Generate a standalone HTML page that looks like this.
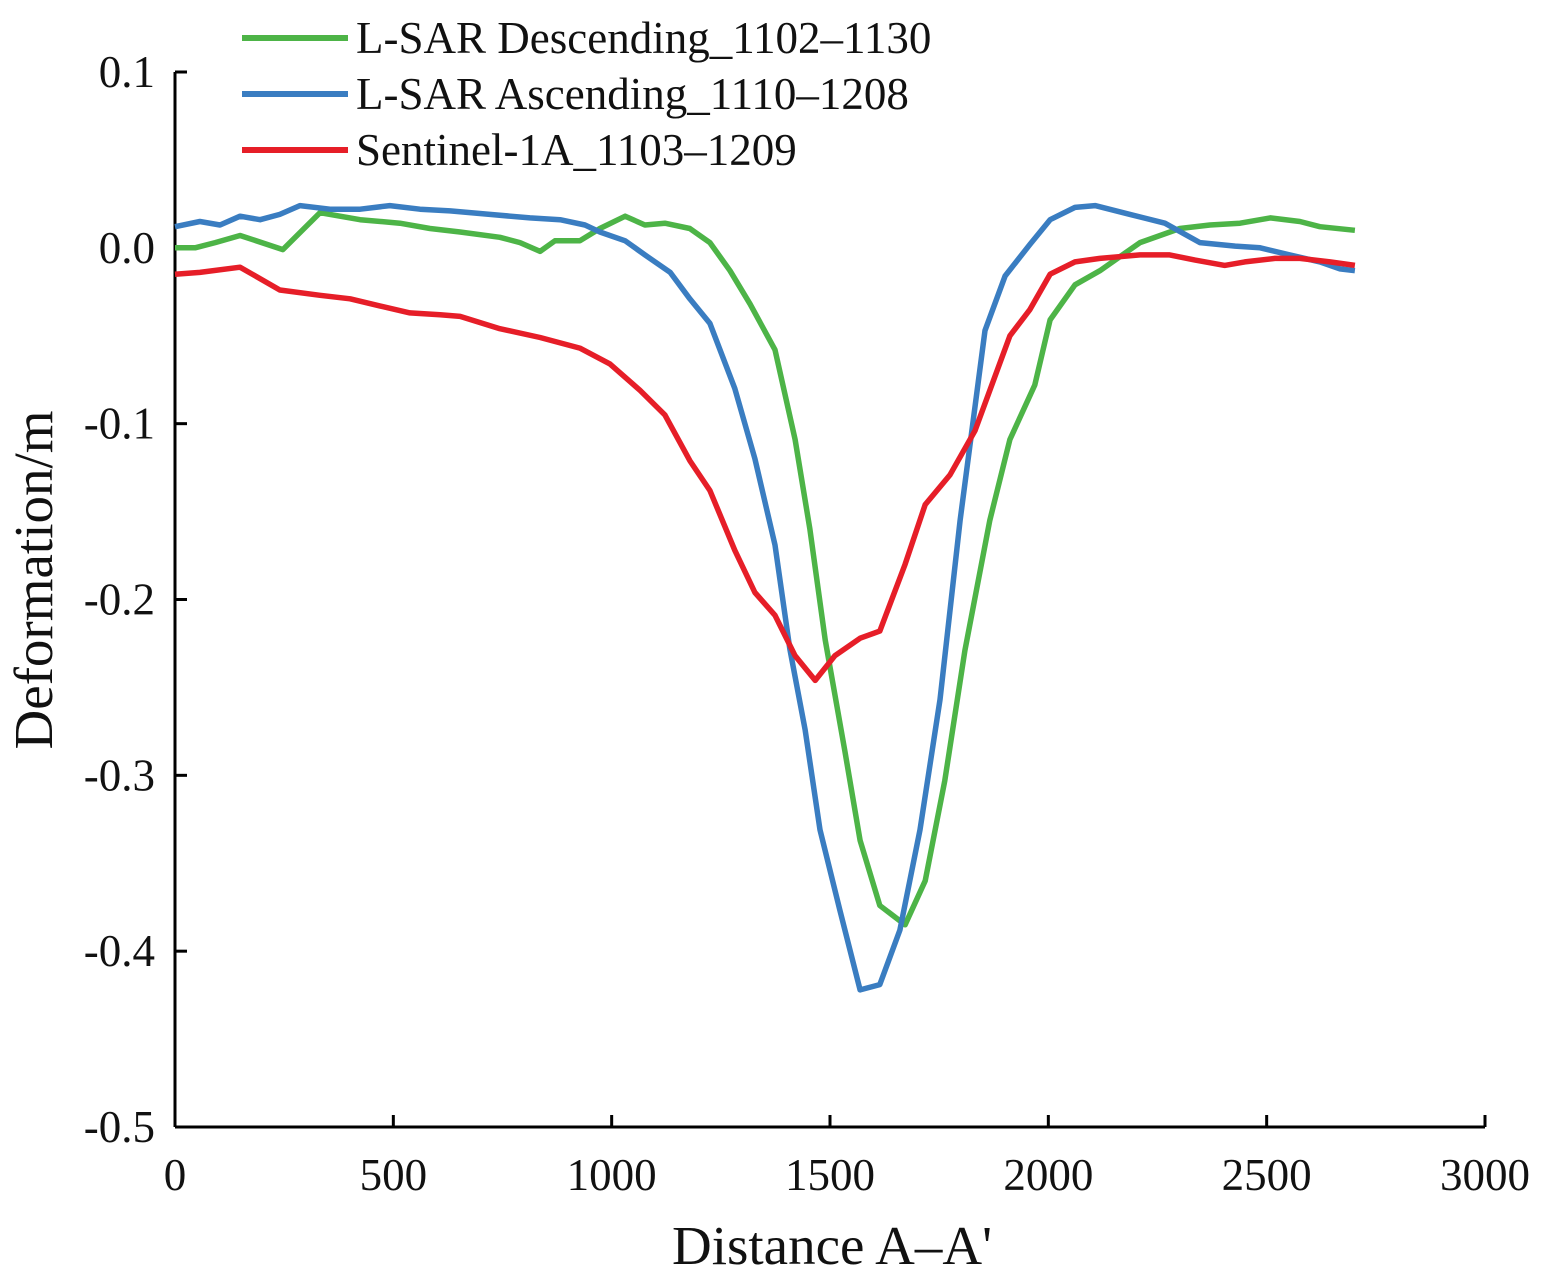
<!DOCTYPE html>
<html><head><meta charset="utf-8"><style>
html,body{margin:0;padding:0;background:#fff;}
svg{display:block;font-family:"Liberation Serif",serif;}
</style></head><body>
<svg id="chart" width="1550" height="1280"></svg>
<script>
const xTicks=[0,500,1000,1500,2000,2500,3000];
const yTicks=[0.1,0.0,-0.1,-0.2,-0.3,-0.4,-0.5];
const yTickLabels=["0.1","0.0","-0.1","-0.2","-0.3","-0.4","-0.5"];
const descX=[0,46,92,149,247,332,424,515,584,653,744,790,836,870,927,973,1031,1076,1122,1179,1225,1271,1317,1374,1420,1454,1489,1534,1569,1614,1672,1718,1763,1809,1866,1912,1969,2004,2061,2118,2210,2301,2370,2439,2508,2576,2622,2702];
const descY=[0.000,0.000,0.003,0.007,-0.001,0.020,0.016,0.014,0.011,0.009,0.006,0.003,-0.002,0.004,0.004,0.011,0.018,0.013,0.014,0.011,0.003,-0.013,-0.032,-0.058,-0.109,-0.160,-0.223,-0.286,-0.337,-0.374,-0.385,-0.360,-0.303,-0.229,-0.155,-0.109,-0.078,-0.041,-0.021,-0.013,0.003,0.011,0.013,0.014,0.017,0.015,0.012,0.010];
const ascX=[0,57,103,149,195,240,286,355,424,492,561,630,721,813,882,939,973,1031,1076,1134,1179,1225,1282,1328,1374,1408,1443,1477,1523,1569,1614,1660,1706,1752,1798,1855,1901,1958,2004,2061,2107,2187,2267,2347,2428,2485,2553,2622,2668,2702];
const ascY=[0.012,0.015,0.013,0.018,0.016,0.019,0.024,0.022,0.022,0.024,0.022,0.021,0.019,0.017,0.016,0.013,0.009,0.004,-0.004,-0.014,-0.029,-0.043,-0.080,-0.120,-0.169,-0.228,-0.274,-0.331,-0.377,-0.422,-0.419,-0.388,-0.331,-0.257,-0.155,-0.047,-0.016,0.002,0.016,0.023,0.024,0.019,0.014,0.003,0.001,0.000,-0.004,-0.008,-0.012,-0.013];
const senX=[0,57,149,240,332,401,469,538,607,653,744,836,927,996,1065,1122,1179,1225,1282,1328,1374,1420,1466,1511,1569,1614,1672,1718,1775,1832,1912,1958,2004,2061,2118,2210,2278,2336,2404,2450,2519,2576,2645,2702];
const senY=[-0.015,-0.014,-0.011,-0.024,-0.027,-0.029,-0.033,-0.037,-0.038,-0.039,-0.046,-0.051,-0.057,-0.066,-0.081,-0.095,-0.121,-0.138,-0.172,-0.196,-0.209,-0.232,-0.246,-0.232,-0.222,-0.218,-0.180,-0.146,-0.129,-0.104,-0.050,-0.035,-0.015,-0.008,-0.006,-0.004,-0.004,-0.007,-0.010,-0.008,-0.006,-0.006,-0.008,-0.010];

const NS="http://www.w3.org/2000/svg";
const svg=document.getElementById('chart');
const X0=175,X1=1485,Y0=72,Y1=1127;
const xs=v=>X0+(v/3000)*(X1-X0);
const ys=v=>Y0+(0.1-v)/0.6*(Y1-Y0);
function mk(t,a){const e=document.createElementNS(NS,t);for(const k in a)e.setAttribute(k,a[k]);svg.appendChild(e);return e;}

let e;
e=mk('line',{x1:X0,y1:Y0,x2:X0,y2:Y1,stroke:'#000','stroke-width':3});


e=mk('line',{x1:X0,y1:Y1,x2:X1,y2:Y1,stroke:'#000','stroke-width':3});



xTicks.forEach(v=>{
  const t=mk('line',{x1:xs(v),y1:Y1,x2:xs(v),y2:Y1-12,stroke:'#000','stroke-width':3});
  
  
  const l=mk('text',{x:xs(v),y:1190,'font-size':45,'text-anchor':'middle',fill:'#111'});
  l.textContent=v;
  
  
});
yTicks.forEach((v,i)=>{
  const t=mk('line',{x1:X0,y1:ys(v),x2:X0+12,y2:ys(v),stroke:'#000','stroke-width':3});
  
  
  const l=mk('text',{x:155,y:ys(v)+15,'font-size':45,'text-anchor':'end',fill:'#111'});
  l.textContent=yTickLabels[i];
  
  
});

function series(xa,ya,c,name){
  const d=xa.map((x,i)=>(i?'L':'M')+xs(x).toFixed(1)+','+ys(ya[i]).toFixed(1)).join(' ');
  const p=mk('path',{d:d,fill:'none',stroke:c,'stroke-width':5.5,'stroke-linejoin':'round'});
  
  
}
series(descX,descY,'#4db447','line-lsar-descending');
series(ascX,ascY,'#3a7dc1','line-lsar-ascending');
series(senX,senY,'#e61e28','line-sentinel-1a');

const leg=[['#4db447','L-SAR Descending_1102–1130',38],['#3a7dc1','L-SAR Ascending_1110–1208',94],['#e61e28','Sentinel-1A_1103–1209',150]];
leg.forEach(([c,txt,y])=>{
  const s=mk('line',{x1:242,y1:y,x2:348,y2:y,stroke:c,'stroke-width':6});
  
  
  const t=mk('text',{x:356,y:y+15,'font-size':45,fill:'#111'});
  t.textContent=txt;
  
  
});

let t=mk('text',{x:832,y:1264,'font-size':55,'text-anchor':'middle',fill:'#111'});
t.textContent="Distance A–A'";


t=mk('text',{x:0,y:0,'font-size':55,'text-anchor':'middle',fill:'#111',transform:'translate(52,580) rotate(-90)'});
t.textContent='Deformation/m';


</script>
</body></html>
